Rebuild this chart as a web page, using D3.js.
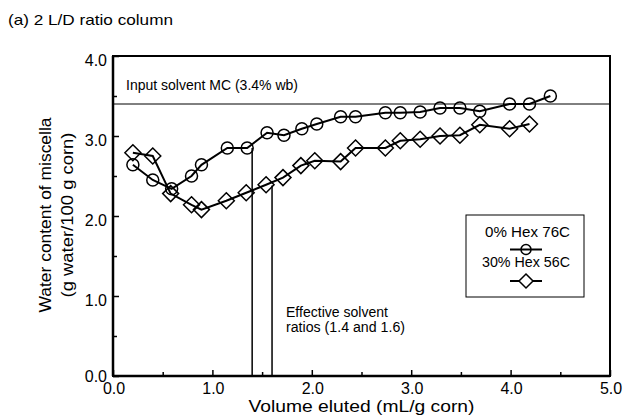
<!DOCTYPE html>
<html><head><meta charset="utf-8">
<script src="https://cdn.jsdelivr.net/npm/d3@7"></script>
<style>body{margin:0;background:#fff}svg{display:block}text{font-family:"Liberation Sans",Arial,sans-serif;fill:#000}</style>
</head><body><div id="c"></div>
<script>
const hex0X = [0.20,0.40,0.59,0.79,0.89,1.15,1.35,1.55,1.72,1.90,2.05,2.29,2.44,2.74,2.89,3.09,3.29,3.49,3.69,3.99,4.19,4.40];
const hex0Y = [2.64,2.45,2.34,2.50,2.64,2.85,2.85,3.04,3.01,3.09,3.15,3.24,3.24,3.29,3.29,3.30,3.35,3.35,3.31,3.40,3.40,3.50];
const hex30X = [0.20,0.40,0.58,0.79,0.89,1.14,1.34,1.54,1.71,1.89,2.03,2.29,2.44,2.74,2.89,3.09,3.29,3.49,3.69,3.99,4.19];
const hex30Y = [2.79,2.75,2.28,2.14,2.08,2.19,2.29,2.39,2.48,2.63,2.69,2.68,2.85,2.85,2.94,2.96,3.00,3.01,3.14,3.09,3.15];
const xTicks = [0,1,2,3,4,5];
const yTicks = [0,1,2,3,4];
const inputMC = 3.4;
const effRatios = [1.4, 1.6];
const effTops = [2.85, 2.38];
const seriesNames = ["0% Hex 76C","30% Hex 56C"];

const W=633,H=416;
const svg=d3.select("#c").append("svg").attr("width",W).attr("height",H);
const x=d3.scaleLinear().domain([0,5]).range([113,610]);
const y=d3.scaleLinear().domain([0,4]).range([376,56]);

function txt(g,xx,yy,s,size,len,anchor){
  const t=g.append("text").attr("x",xx).attr("y",yy).style("font-size",size+"px").text(s);
  if(anchor) t.attr("text-anchor",anchor);
  if(len) t.attr("textLength",len).attr("lengthAdjust","spacingAndGlyphs");
  return t;
}

// title
txt(svg,8,25,"(a) 2 L/D ratio column",15,165);

// frame
svg.append("rect").attr("x",x(0)).attr("y",y(4)).attr("width",x(5)-x(0)).attr("height",y(0)-y(4))
  .attr("fill","none").attr("stroke","#000").attr("stroke-width",2);
svg.append("line").attr("x1",x(0)).attr("x2",x(5)).attr("y1",y(0)).attr("y2",y(0)).attr("stroke","#000").attr("stroke-width",2.5);
svg.append("line").attr("x1",x(0)).attr("x2",x(0)).attr("y1",y(0)).attr("y2",y(4)).attr("stroke","#000").attr("stroke-width",2.5);

// ticks (inward)
const xa=d3.axisBottom(x).tickValues(d3.range(0,5.01,0.5)).tickSize(-5).tickFormat("");
const gx=svg.append("g").attr("transform",`translate(0,${y(0)})`).call(xa);
gx.select(".domain").remove();
gx.selectAll(".tick line").attr("stroke-width",1.5).attr("y2",(d)=>Number.isInteger(d)?-6:-4);
const ya=d3.axisLeft(y).tickValues(d3.range(0,4.01,0.5)).tickSize(-5).tickFormat("");
const gy=svg.append("g").attr("transform",`translate(${x(0)},0)`).call(ya);
gy.select(".domain").remove();
gy.selectAll(".tick line").attr("stroke-width",1.5).attr("x2",(d)=>Number.isInteger(d)?6:4);

// tick labels
svg.selectAll(".xl").data(xTicks).enter().append("text").attr("x",d=>x(d)+1).attr("y",y(0)+18)
  .attr("text-anchor","middle").style("font-size","16px").text(d=>d.toFixed(1));
svg.selectAll(".yl").data(yTicks).enter().append("text").attr("x",x(0)-6).attr("y",d=>y(d)+(d===0?5.5:10))
  .attr("text-anchor","end").style("font-size","16px").text(d=>d.toFixed(1));

// axis titles
txt(svg,(x(0)+x(5))/2,412,"Volume eluted (mL/g corn)",17,226,"middle");
const yg=svg.append("g").attr("transform","translate(0,215) rotate(-90)");
txt(yg,0,51,"Water content of miscella",16,195,"middle");
txt(yg,0,73,"(g water/100 g corn)",16,165,"middle");

// input MC line
svg.append("line").attr("x1",x(0)).attr("x2",x(5)).attr("y1",y(inputMC)).attr("y2",y(inputMC)).attr("stroke","#000").attr("stroke-width",1);
txt(svg,126,90,"Input solvent MC (3.4% wb)",14,172);

// effective ratio lines
effRatios.forEach((r,i)=>{
  svg.append("line").attr("x1",x(r)).attr("x2",x(r)).attr("y1",y(0)).attr("y2",y(effTops[i])).attr("stroke","#000").attr("stroke-width",1.5);
});
txt(svg,286,317,"Effective solvent",14,102);
txt(svg,286,332,"ratios (1.4 and 1.6)",14,119);

const line=d3.line().x(d=>x(d[0])).y(d=>y(d[1]));
const d0=hex0X.map((v,i)=>[v,hex0Y[i]]);
const d30=hex30X.map((v,i)=>[v,hex30Y[i]]);
svg.append("path").datum(d0).attr("d",line).attr("fill","none").attr("stroke","#000").attr("stroke-width",2);
svg.append("path").datum(d30).attr("d",line).attr("fill","none").attr("stroke","#000").attr("stroke-width",2);
svg.selectAll(".c").data(d0).enter().append("circle").attr("cx",d=>x(d[0])).attr("cy",d=>y(d[1])).attr("r",6)
  .attr("fill","none").attr("stroke","#000").attr("stroke-width",1.5);
const dia=(cx,cy,s)=>`M${cx},${cy-s}L${cx+s},${cy}L${cx},${cy+s}L${cx-s},${cy}Z`;
svg.selectAll(".d").data(d30).enter().append("path").attr("d",d=>dia(x(d[0]),y(d[1]),8))
  .attr("fill","none").attr("stroke","#000").attr("stroke-width",1.5);

// legend
svg.append("rect").attr("x",466).attr("y",215).attr("width",118).attr("height",82).attr("fill","#fff").attr("stroke","#000").attr("stroke-width",1);
txt(svg,527.5,237,seriesNames[0],15,85,"middle");
svg.append("line").attr("x1",510).attr("x2",542).attr("y1",249.5).attr("y2",249.5).attr("stroke","#000").attr("stroke-width",2);
svg.append("circle").attr("cx",526).attr("cy",249.5).attr("r",5).attr("fill","none").attr("stroke","#000").attr("stroke-width",1.5);
txt(svg,526,267,seriesNames[1],15,88,"middle");
svg.append("line").attr("x1",510).attr("x2",542).attr("y1",281).attr("y2",281).attr("stroke","#000").attr("stroke-width",2);
svg.append("path").attr("d",dia(526,281,7)).attr("fill","#fff").attr("stroke","#000").attr("stroke-width",1.5);
</script></body></html>
